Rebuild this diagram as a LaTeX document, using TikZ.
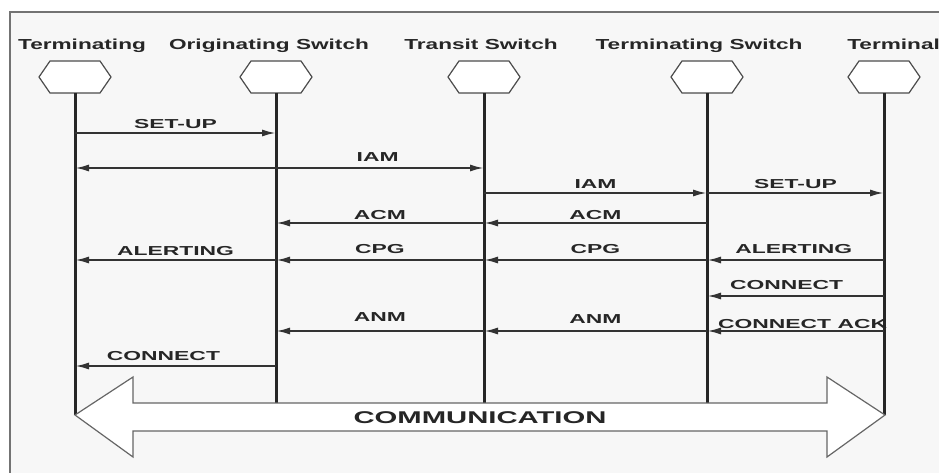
\documentclass[tikz,border=0pt]{standalone}
\usepackage{fontspec}
\setmainfont{Liberation Sans}
\usetikzlibrary{arrows.meta}

\tikzset{
  msgtip/.tip={Latex[length=14pt,width=7pt]},
  life/.style={line width=3pt, black!85},
  msg/.style={line width=2pt, black!80, -msgtip},
  lbl/.style={font=\bfseries\fontsize{13}{13}\selectfont, xscale=1.76, anchor=base, inner sep=0pt, yshift=4pt, black!85},
  heading/.style={font=\bfseries\fontsize{14.5}{14.5}\selectfont, xscale=1.56, anchor=base, inner sep=0pt, black!85},
  hexhead/.pic={
    \draw[line width=1.2pt, black!70, fill=white] (-36,0) -- (-25,-16) -- (25,-16) -- (36,0) -- (25,16) -- (-25,16) -- cycle;
    \coordinate (-bot) at (0,16);
  }
}

\begin{document}
\begin{tikzpicture}[x=1pt,y=-1pt]
  \useasboundingbox (0,0) rectangle (939,473);
  % frame
  \fill[black!3] (10,12) rectangle (939,473);
  \draw[line width=1.4pt, black!55] (10,473) -- (10,12) -- (939,12);

  % heads
  \node[heading] (h-ta) at (82,50) {Terminating};
  \node[heading] (h-os) at (269,50) {Originating Switch};
  \node[heading] (h-tr) at (481,50) {Transit Switch};
  \node[heading] (h-ts) at (699,50) {Terminating Switch};
  \node[heading, anchor=base west] (h-tm) at (847,50) {Terminal};

  \pic (ta) at (75,77) {hexhead};
  \pic (os) at (276,77) {hexhead};
  \pic (tr) at (484,77) {hexhead};
  \pic (ts) at (707,77) {hexhead};
  \pic (tm) at (884,77) {hexhead};

  \coordinate (tipL) at (75,415);
  \coordinate (tipR) at (885,415);
  \coordinate (shaft) at (0,403);

  % life lines
  \draw[life] (ta-bot) -- (tipL);
  \draw[life] (os-bot) -- (os-bot |- shaft);
  \draw[life] (tr-bot) -- (tr-bot |- shaft);
  \draw[life] (ts-bot) -- (ts-bot |- shaft);
  \draw[life] (tm-bot) -- (tm-bot |- tipR);

  % messages
  \draw[msg] (ta-bot |- 0,133) -- (os-bot |- 0,133) node[lbl, midway] {SET-UP};
  \draw[msg, msgtip-msgtip] (ta-bot |- 0,168) -- (tr-bot |- 0,168) node[lbl, pos=0.74, yshift=2pt] {IAM};
  \draw[msg] (tr-bot |- 0,193) -- (ts-bot |- 0,193) node[lbl, midway] {IAM};
  \draw[msg] (ts-bot |- 0,193) -- (tm-bot |- 0,193) node[lbl, midway] {SET-UP};
  \draw[msg] (ts-bot |- 0,223) -- (tr-bot |- 0,223) node[lbl, midway] {ACM};
  \draw[msg] (tr-bot |- 0,223) -- (os-bot |- 0,223) node[lbl, midway] {ACM};
  \draw[msg] (os-bot |- 0,260) -- (ta-bot |- 0,260) node[lbl, midway, yshift=1pt] {ALERTING};
  \draw[msg] (tr-bot |- 0,260) -- (os-bot |- 0,260) node[lbl, midway, yshift=3pt] {CPG};
  \draw[msg] (ts-bot |- 0,260) -- (tr-bot |- 0,260) node[lbl, midway, yshift=3pt] {CPG};
  \draw[msg] (tm-bot |- 0,260) -- (ts-bot |- 0,260) node[lbl, pos=0.51, yshift=3pt] {ALERTING};
  \draw[msg] (tm-bot |- 0,296) -- (ts-bot |- 0,296) node[lbl, pos=0.55, yshift=3pt] {CONNECT};
  \draw[msg] (tm-bot |- 0,331) -- (ts-bot |- 0,331) node[lbl, pos=0.46, yshift=-1pt] {CONNECT ACK};
  \draw[msg] (ts-bot |- 0,331) -- (tr-bot |- 0,331) node[lbl, midway, yshift=4pt] {ANM};
  \draw[msg] (tr-bot |- 0,331) -- (os-bot |- 0,331) node[lbl, midway, yshift=6pt] {ANM};
  \draw[msg] (os-bot |- 0,366) -- (ta-bot |- 0,366) node[lbl, pos=0.56, yshift=2pt] {CONNECT};

  % communication arrow
  \draw[line width=1.2pt, black!60, fill=white] (tipL) -- (133,377) -- (133,403) -- (827,403) -- (827,377)
    -- (tipR) -- (827,457) -- (827,431) -- (133,431) -- (133,457) -- cycle;
  \node[font=\bfseries\fontsize{17}{17}\selectfont, xscale=1.72, anchor=base, inner sep=0pt, black!85] (comm) at (480,423) {COMMUNICATION};
\end{tikzpicture}
\end{document}
